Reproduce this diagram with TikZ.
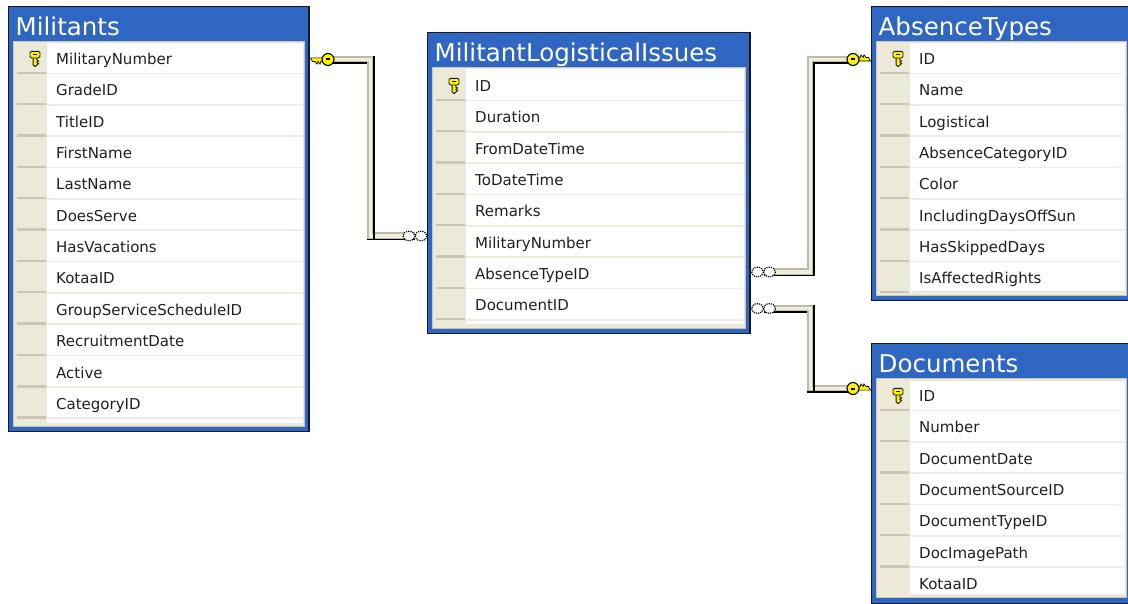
\documentclass[tikz,border=0pt]{standalone}
\usepackage{fontspec}
\usetikzlibrary{calc}
\setmainfont{DejaVu Sans}
\definecolor{band}{HTML}{2F66C2}
\definecolor{edge}{HTML}{14181F}
\definecolor{beige}{HTML}{ECE9D8}
\definecolor{beigeline}{HTML}{C9C6B6}
\definecolor{bandshade}{HTML}{BDBAA8}
\definecolor{cellline}{HTML}{EFEDE0}
\definecolor{ink}{HTML}{202020}
\definecolor{keyy}{HTML}{FFF200}
\tikzset{
  x=1pt,y=-1pt,
  tablebox/.style={draw=edge,line width=1.6pt,fill=band},
  tablebody/.style={fill=beige,draw=beigeline,line width=.7pt},
  titletext/.style={text=white,font=\fontsize{24.5}{24}\selectfont,anchor=base west,inner sep=0pt},
  rowtext/.style={text=ink,font=\fontsize{15}{16}\selectfont,anchor=base west,inner sep=0pt},
  anchorpt/.style={inner sep=0pt,minimum size=0pt},
  relshade/.style={draw=bandshade,line width=7pt,line join=miter},
  rellight/.style={draw=cellline,line width=3.4pt,line join=miter},
  relblack/.style={draw=black,line width=1.25pt},
}
% connector band: shaded strip with a light centre
\newcommand{\relband}[1]{%
  \draw[relshade] #1;
  \draw[rellight] #1;
}
% relationship key; #1 position, #2 flip (1: teeth left and down; -1: teeth right and up)
\newcommand{\relkey}[2]{%
  \begin{scope}[shift={(#1)},xscale=#2,yscale=#2]
    \fill[keyy,draw=black,line width=.7pt] (-17.5,-1.6) -- (-3,-1.6) -- (-3,1.8) -- (-7,1.8) -- (-8,4.6) -- (-10,2) -- (-11,4.6) -- (-13,2) -- (-15.5,2) -- cycle;
    \fill[keyy,draw=black,line width=1.1pt] (0,0) circle (6);
    \fill[black] (-1.8,-1) rectangle (1.8,1);
  \end{scope}}
% field key
\newcommand{\fieldkey}[1]{%
  \begin{scope}[shift={(#1)}]
    \fill[keyy,draw=edge,line width=.9pt] (-1.9,-2) -- (1.9,-2) -- (1.9,1) -- (3.6,2) -- (1.9,3.4) -- (3.6,4.6) -- (1.9,6) -- (.2,7.6) -- (-1.9,6) -- cycle;
    \fill[keyy,draw=edge,line width=.9pt,rounded corners=1.4pt] (-5,-7.6) rectangle (5,-1);
    \fill[edge] (-1.8,-5.4) rectangle (1.8,-4);
  \end{scope}}
% open many-end glyph; #1 centre
\newcommand{\relinf}[1]{%
  \begin{scope}[shift={(#1)}]
    \draw[black,line width=1.2pt,densely dotted,fill=white] (-6,0) ellipse (6 and 4.8);
    \draw[black,line width=1.2pt,densely dotted,fill=white] (6,0) ellipse (6 and 4.8);
  \end{scope}}
% \dbtable{name}{left}{top}{right}{bottom}{title}{first row centre}{rows}
\newcommand{\dbtable}[8]{%
  \pgfmathsetmacro{\tl}{#2}\pgfmathsetmacro{\tt}{#3}\pgfmathsetmacro{\tr}{#4}\pgfmathsetmacro{\tb}{#5}
  \path[tablebox] (\tl,\tt) rectangle (\tr,\tb);
  \node[anchorpt] (#1) at ({(\tl+\tr)/2},{(\tt+\tb)/2}) {};
  \path[tablebody] (\tl+4.5,\tt+35) rectangle (\tr-4.5,\tb-5.5);
  \fill[white] (\tl+38.5,\tt+37) rectangle (\tr-6,\tb-9);
  \node[titletext] at (\tl+7,\tt+29) {#6};
  \begin{scope}
    \clip (\tl+4.5,\tt+35) rectangle (\tr-4.5,\tb-5.5);
    \foreach \lab [count=\i from 0] in {#8}{
      \pgfmathsetmacro{\cy}{#7+31.35*\i}
      \node[rowtext] at (\tl+47.5,\cy+5.5) {\lab};
      \fill[beigeline] (\tl+8,\cy+12.6) rectangle (\tl+37.5,\cy+15);
      \fill[cellline] (\tl+38.5,\cy+13.6) rectangle (\tr-6,\cy+15.2);
    }
  \end{scope}
}
\begin{document}
\begin{tikzpicture}
\useasboundingbox (0,0) rectangle (1128,604);
\fill[white] (0,0) rectangle (1128,604);

\dbtable{mil}{8.5}{6.5}{309}{431.5}{Militants}{59}{MilitaryNumber,GradeID,TitleID,FirstName,LastName,DoesServe,HasVacations,KotaaID,GroupServiceScheduleID,RecruitmentDate,Active,CategoryID}
\dbtable{iss}{427.5}{32.5}{750}{333.5}{MilitantLogisticalIssues}{86}{ID,Duration,FromDateTime,ToDateTime,Remarks,MilitaryNumber,AbsenceTypeID,DocumentID}
\dbtable{abs}{871.5}{6.5}{1131}{300.5}{AbsenceTypes}{59}{ID,Name,Logistical,AbsenceCategoryID,Color,IncludingDaysOffSun,HasSkippedDays,IsAffectedRights}
\dbtable{doc}{871.5}{343.5}{1131}{603.3}{Documents}{396}{ID,Number,DocumentDate,DocumentSourceID,DocumentTypeID,DocImagePath,KotaaID}

\fieldkey{35,59}
\fieldkey{454,86}
\fieldkey{898,59}
\fieldkey{898,396}

% connector ends
\coordinate (k1) at (328,59.5);
\coordinate (i1) at (415,236);
\coordinate (k2) at (853,59.5);
\coordinate (i2) at (763.5,272);
\coordinate (k3) at (853,388.5);
\coordinate (i3) at (763.5,308.5);
\coordinate (mx) at (370.5,0);
\coordinate (rx) at (810.5,0);

\relband{(k1) -- (k1 -| mx) -- (i1 -| mx) -- (i1)}
\relband{(i2) -- (i2 -| rx) -- (k2 -| rx) -- (k2)}
\relband{(i3) -- (i3 -| rx) -- (k3 -| rx) -- (k3)}

% dark edges of the bands
\draw[relblack] ($(k1)+(0,3.4)$) -- ($(k1 -| mx)+(-3.5,3.4)$);
\draw[relblack] ($(k1 -| mx)+(3.4,-3.5)$) -- ($(i1 -| mx)+(3.4,3.4)$);
\draw[relblack] ($(i1 -| mx)+(-3.5,3.4)$) -- ($(i1)+(0,3.4)$);

\draw[relblack] ($(i2)+(0,3.4)$) -- ($(i2 -| rx)+(3.4,3.4)$) -- ($(k2 -| rx)+(3.4,3.4)$) -- ($(k2)+(0,3.4)$);

\draw[relblack] ($(i3)+(0,3.4)$) -- ($(i3 -| rx)+(-3.5,3.4)$);
\draw[relblack] ($(i3 -| rx)+(3.4,-3.5)$) -- ($(k3 -| rx)+(3.4,3.4)$);
\draw[relblack] ($(k3 -| rx)+(-3.5,3.4)$) -- ($(k3)+(0,3.4)$);

\relkey{k1}{1}
\relkey{k2}{-1}
\relkey{k3}{-1}
\relinf{i1}
\relinf{i2}
\relinf{i3}
\end{tikzpicture}
\end{document}
